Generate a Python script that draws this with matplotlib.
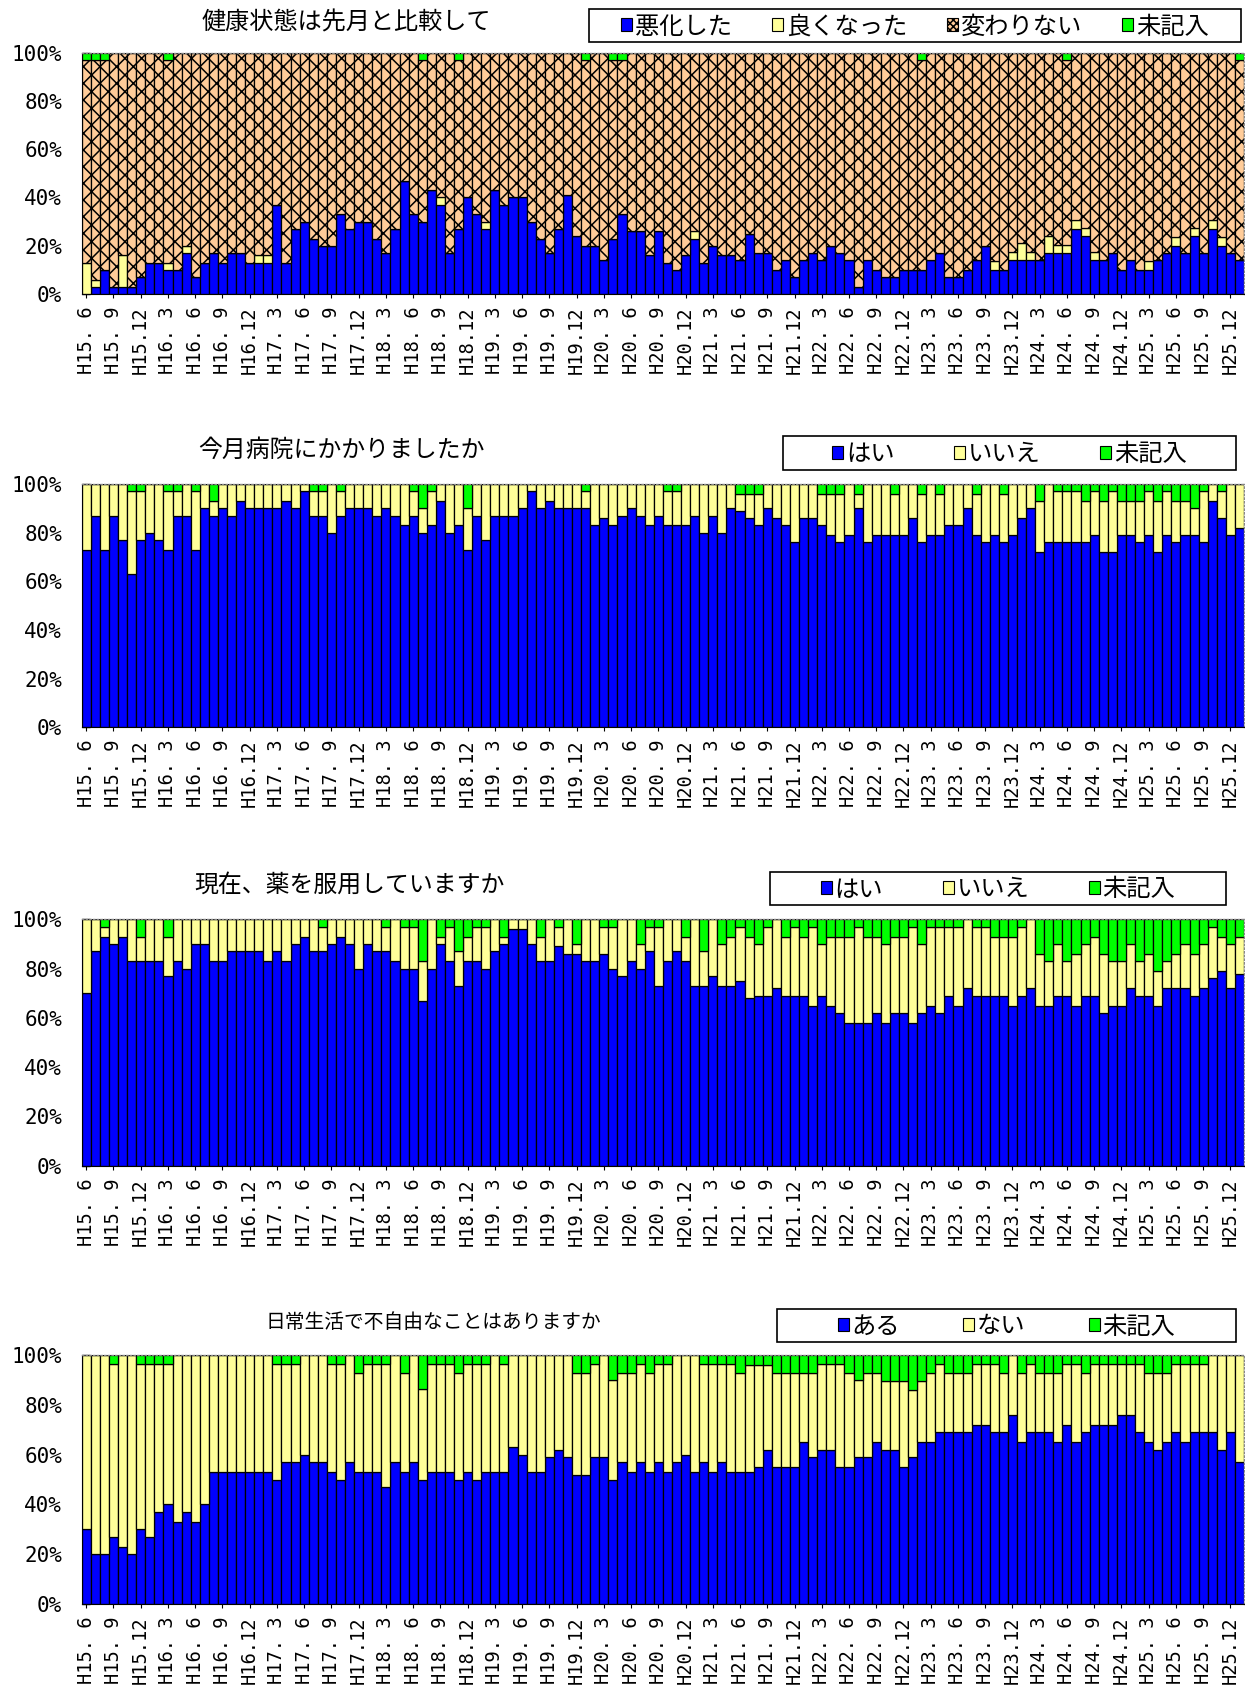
import matplotlib
matplotlib.use('Agg')
import matplotlib.pyplot as plt
from matplotlib.patches import Patch, Rectangle

plt.rcParams['font.family'] = ['Noto Sans CJK JP', 'DejaVu Sans']
plt.rcParams['hatch.linewidth'] = 1.1

# ---------------- data ----------------
tick_labels = ['H15. 6', 'H15. 9', 'H15.12', 'H16. 3', 'H16. 6', 'H16. 9', 'H16.12',
               'H17. 3', 'H17. 6', 'H17. 9', 'H17.12', 'H18. 3', 'H18. 6', 'H18. 9',
               'H18.12', 'H19. 3', 'H19. 6', 'H19. 9', 'H19.12', 'H20. 3', 'H20. 6',
               'H20. 9', 'H20.12', 'H21. 3', 'H21. 6', 'H21. 9', 'H21.12', 'H22. 3',
               'H22. 6', 'H22. 9', 'H22.12', 'H23. 3', 'H23. 6', 'H23. 9', 'H23.12',
               'H24. 3', 'H24. 6', 'H24. 9', 'H24.12', 'H25. 3', 'H25. 6', 'H25. 9',
               'H25.12']

# Panel 1: 健康状態は先月と比較して
p1_worse = [0, 3, 10, 3, 3, 3, 7, 13, 13, 10, 10, 17, 7, 13, 17, 13, 17, 17, 13, 13,
            13, 37, 13, 27, 30, 23, 20, 20, 33, 27, 30, 30, 23, 17, 27, 47, 33, 30, 43, 37,
            17, 27, 40, 33, 27, 43, 37, 40, 40, 30, 23, 17, 27, 41, 24, 20, 20, 14, 23, 33,
            26, 26, 16, 26, 13, 10, 16, 23, 13, 20, 16, 16, 14, 25, 17, 17, 10, 14, 7, 14,
            17, 14, 20, 17, 14, 3, 14, 10, 7, 7, 10, 10, 10, 14, 17, 7, 7, 10, 14, 20,
            10, 10, 14, 14, 14, 14, 17, 17, 17, 27, 24, 14, 14, 17, 10, 14, 10, 10, 14, 17,
            20, 17, 24, 17, 27, 20, 17, 14]
p1_better = [13, 3, 0, 0, 13, 0, 0, 0, 0, 3, 0, 3, 0, 0, 0, 0, 0, 0, 0, 3,
             3, 0, 0, 0, 0, 0, 0, 0, 0, 0, 0, 0, 0, 0, 0, 0, 0, 0, 0, 3,
             0, 0, 0, 0, 3, 0, 0, 0, 0, 0, 0, 0, 0, 0, 0, 0, 0, 0, 0, 0,
             0, 0, 0, 0, 0, 0, 0, 3, 0, 0, 0, 0, 0, 0, 0, 0, 0, 0, 0, 0,
             0, 0, 0, 0, 0, 0, 0, 0, 0, 0, 0, 0, 0, 0, 0, 0, 0, 0, 0, 0,
             3.5, 0, 3.5, 7, 3.5, 0, 7, 3.5, 3.5, 3.5, 3.5, 3.5, 0, 0, 0, 0, 0, 3.5, 0, 0,
             3.5, 0, 3.5, 0, 3.5, 3.5, 0, 0]
p1_missing = [3, 3, 3, 0, 0, 0, 0, 0, 0, 3, 0, 0, 0, 0, 0, 0, 0, 0, 0, 0,
              0, 0, 0, 0, 0, 0, 0, 0, 0, 0, 0, 0, 0, 0, 0, 0, 0, 3, 0, 0,
              0, 3, 0, 0, 0, 0, 0, 0, 0, 0, 0, 0, 0, 0, 0, 3, 0, 0, 3, 3,
              0, 0, 0, 0, 0, 0, 0, 0, 0, 0, 0, 0, 0, 0, 0, 0, 0, 0, 0, 0,
              0, 0, 0, 0, 0, 0, 0, 0, 0, 0, 0, 0, 3, 0, 0, 0, 0, 0, 0, 0,
              0, 0, 0, 0, 0, 0, 0, 0, 3, 0, 0, 0, 0, 0, 0, 0, 0, 0, 0, 0,
              0, 0, 0, 0, 0, 0, 0, 3]

# Panel 2: 今月病院にかかりましたか
p2_yes = [73, 87, 73, 87, 77, 63, 77, 80, 77, 73, 87, 87, 73, 90, 87, 90, 87, 93, 90, 90,
          90, 90, 93, 90, 97, 87, 87, 80, 87, 90, 90, 90, 87, 90, 87, 83, 87, 80, 83, 93,
          80, 83, 73, 87, 77, 87, 87, 87, 90, 97, 90, 93, 90, 90, 90, 90, 83, 86, 83, 87,
          90, 87, 83, 87, 83, 83, 83, 87, 80, 87, 80, 90, 89, 86, 83, 90, 86, 83, 76, 86,
          86, 83, 79, 76, 79, 90, 76, 79, 79, 79, 79, 86, 76, 79, 79, 83, 83, 90, 79, 76,
          79, 76, 79, 86, 90, 72, 76, 76, 76, 76, 76, 79, 72, 72, 79, 79, 76, 79, 72, 79,
          76, 79, 79, 76, 93, 86, 79, 82]
p2_missing = [0, 0, 0, 0, 0, 3, 3, 0, 0, 3, 3, 0, 3, 0, 7, 0, 0, 0, 0, 0,
              0, 0, 0, 0, 0, 3, 3, 0, 3, 0, 0, 0, 0, 0, 0, 0, 3, 10, 3, 0,
              0, 0, 10, 0, 0, 0, 0, 0, 0, 0, 0, 0, 0, 0, 0, 3, 0, 0, 0, 0,
              0, 0, 0, 0, 3, 3, 0, 0, 0, 0, 0, 0, 4, 4, 4, 0, 0, 0, 0, 0,
              0, 4, 4, 4, 0, 4, 0, 0, 0, 4, 0, 0, 4, 0, 4, 0, 0, 0, 4, 0,
              0, 4, 0, 0, 0, 7, 0, 3, 3, 3, 7, 3, 7, 3, 7, 7, 7, 3, 7, 3,
              7, 7, 10, 3, 0, 3, 0, 0]

# Panel 3: 現在、薬を服用していますか
p3_yes = [70, 87, 93, 90, 93, 83, 83, 83, 83, 77, 83, 80, 90, 90, 83, 83, 87, 87, 87, 87,
          83, 87, 83, 90, 93, 87, 87, 90, 93, 90, 80, 90, 87, 87, 83, 80, 80, 67, 80, 90,
          83, 73, 83, 83, 80, 87, 90, 96, 96, 90, 83, 83, 89, 86, 86, 83, 83, 86, 80, 77,
          83, 80, 87, 73, 83, 87, 83, 73, 73, 77, 73, 73, 75, 68, 69, 69, 72, 69, 69, 69,
          65, 69, 65, 62, 58, 58, 58, 62, 58, 62, 62, 58, 62, 65, 62, 69, 65, 72, 69, 69,
          69, 69, 65, 69, 72, 65, 65, 69, 69, 65, 69, 69, 62, 65, 65, 72, 69, 69, 65, 72,
          72, 72, 69, 72, 76, 79, 72, 78]
p3_missing = [0, 0, 3, 0, 0, 0, 7, 0, 0, 7, 0, 0, 0, 0, 0, 0, 0, 0, 0, 0,
              0, 0, 0, 0, 0, 0, 3, 0, 0, 0, 0, 0, 0, 3, 0, 3, 3, 17, 0, 7,
              3, 13, 7, 3, 3, 0, 7, 0, 0, 0, 7, 0, 3, 0, 10, 0, 0, 3, 3, 0,
              0, 10, 3, 3, 0, 0, 7, 0, 13, 0, 10, 7, 3, 7, 10, 3, 0, 7, 3, 7,
              3, 10, 7, 7, 7, 3, 7, 7, 10, 7, 7, 3, 10, 3, 3, 3, 3, 0, 3, 3,
              7, 7, 7, 3, 0, 14, 17, 10, 17, 14, 10, 7, 14, 17, 17, 10, 17, 14, 21, 17,
              14, 10, 14, 10, 3, 7, 10, 7]

# Panel 4: 日常生活で不自由なことはありますか
p4_yes = [30, 20, 20, 27, 23, 20, 30, 27, 37, 40, 33, 37, 33, 40, 53, 53, 53, 53, 53, 53,
          53, 50, 57, 57, 60, 57, 57, 53, 50, 57, 53, 53, 53, 47, 57, 53, 57, 50, 53, 53,
          53, 50, 53, 50, 53, 53, 53, 63, 60, 53, 53, 59, 62, 59, 52, 52, 59, 59, 50, 57,
          53, 57, 53, 57, 53, 57, 60, 53, 57, 53, 57, 53, 53, 53, 55, 62, 55, 55, 55, 65,
          59, 62, 62, 55, 55, 59, 59, 65, 62, 62, 55, 59, 65, 65, 69, 69, 69, 69, 72, 72,
          69, 69, 76, 65, 69, 69, 69, 65, 72, 65, 69, 72, 72, 72, 76, 76, 69, 65, 62, 65,
          69, 65, 69, 69, 69, 62, 69, 57]
p4_missing = [0, 0, 0, 3.6, 0, 0, 3.6, 3.6, 3.6, 3.6, 0, 0, 0, 0, 0, 0, 0, 0, 0, 0,
              0, 3.6, 3.6, 3.6, 0, 0, 0, 3.6, 3.6, 0, 7, 3.6, 3.6, 3.6, 0, 7, 0, 13.5, 3.6, 3.6,
              3.6, 7, 3.6, 3.6, 3.6, 0, 3.6, 0, 0, 0, 0, 0, 0, 0, 7, 7, 3.6, 0, 10, 7,
              7, 3.6, 7, 3.6, 3.6, 0, 0, 0, 3.6, 3.6, 3.6, 3.6, 7, 3.9, 3.9, 3.9, 7, 7, 7, 7,
              7, 3.6, 3.6, 3.6, 7, 10, 7, 7, 10.5, 10.5, 10.5, 14, 10.5, 7, 3.6, 7, 7, 7, 3.6, 3.6,
              3.6, 7, 0, 7, 3.6, 7, 7, 7, 3.6, 3.6, 7, 3.6, 3.6, 3.6, 3.6, 3.6, 3.6, 7, 7, 7,
              3.6, 3.6, 3.6, 3.6, 0, 0, 0, 0]

# ---------------- styling ----------------
BLUE = '#0000FF'
YELLOW = '#FFFF99'
PEACH = '#FFCC99'
GREEN = '#00FF00'

W, H = 1245, 1696
fig = plt.figure(figsize=(W / 100, H / 100), dpi=100)

MONO = ['DejaVu Sans Mono']
FS_YTICK = 15
FS_XTICK = 13.5
FS_LEG = 17.5


def fx(px):
    return px / W


def fy(py):
    return 1 - py / H


def make_axes(top_px, bottom_px):
    left, right = 81.7, 1244
    return fig.add_axes([fx(left), fy(bottom_px), fx(right - left), (bottom_px - top_px) / H])


def style_axes(ax):
    n = len(p1_worse)
    ax.set_xlim(-0.5, n - 0.5)
    ax.set_ylim(0, 100)
    ax.set_yticks([0, 20, 40, 60, 80, 100])
    ax.set_yticklabels(['0%', '20%', '40%', '60%', '80%', '100%'], fontsize=FS_YTICK,
                       family=MONO)
    ax.tick_params(axis='y', direction='in', length=6, width=1, pad=14)
    ax.set_xticks(list(range(0, n, 3))[:len(tick_labels)])
    ax.set_xticklabels(tick_labels, rotation=90, fontsize=FS_XTICK, family=MONO)
    ax.tick_params(axis='x', direction='out', length=3, width=0.8, pad=6)
    for s in ['top', 'right']:
        ax.spines[s].set_color('#888888')
        ax.spines[s].set_linestyle(':')
        ax.spines[s].set_linewidth(1.0)
    ax.spines['left'].set_color('black')
    ax.spines['bottom'].set_color('black')


def stacked(ax, series):
    n = len(series[0][0])
    x = list(range(n))
    bottom = [0.0] * n
    for vals, color, hatch, label in series:
        ax.bar(x, vals, bottom=bottom, width=1.0, color=color, edgecolor='black',
               linewidth=0.9, hatch=hatch, label=label, zorder=2)
        bottom = [bb + v for bb, v in zip(bottom, vals)]


def add_legend(labels, colors, hatches, box_px, spacing):
    x0, y0, x1, y1 = box_px
    frame = Rectangle((fx(x0), fy(y1)), fx(x1 - x0), (y1 - y0) / H,
                      transform=fig.transFigure, facecolor='white', edgecolor='black',
                      linewidth=1.2, zorder=5)
    fig.add_artist(frame)
    hs = [Patch(facecolor=c, edgecolor='black', hatch=h, linewidth=0.8)
          for c, h in zip(colors, hatches)]
    leg = fig.legend(hs, labels, loc='center', ncol=len(labels),
                     bbox_to_anchor=(fx((x0 + x1) / 2), fy((y0 + y1) / 2 + 1)),
                     fontsize=FS_LEG, frameon=False,
                     handlelength=0.45, handleheight=0.45,
                     handletextpad=0.12, borderpad=0.0, borderaxespad=0,
                     columnspacing=spacing)
    leg.set_zorder(6)
    return leg


# ---------- Panel 1 ----------
ax1 = make_axes(52.7, 294)
p1_same = [100 - a - b - c for a, b, c in zip(p1_worse, p1_better, p1_missing)]
stacked(ax1, [(p1_worse, BLUE, None, '悪化した'),
              (p1_better, YELLOW, None, '良くなった'),
              (p1_same, PEACH, 'xx', '変わりない'),
              (p1_missing, GREEN, None, '未記入')])
style_axes(ax1)
fig.text(fx(346), fy(22), '健康状態は先月と比較して', ha='center', va='center', fontsize=17.4)
add_legend(['悪化した', '良くなった', '変わりない', '未記入'], [BLUE, YELLOW, PEACH, GREEN],
           [None, None, 'xxxxx', None], (589, 9, 1241, 42), 1.65)

# ---------- Panel 2 ----------
ax2 = make_axes(484, 727.3)
p2_no = [100 - a - c for a, c in zip(p2_yes, p2_missing)]
stacked(ax2, [(p2_yes, BLUE, None, 'はい'), (p2_no, YELLOW, None, 'いいえ'),
              (p2_missing, GREEN, None, '未記入')])
style_axes(ax2)
fig.text(fx(341), fy(450), '今月病院にかかりましたか', ha='center', va='center', fontsize=17.2)
add_legend(['はい', 'いいえ', '未記入'], [BLUE, YELLOW, GREEN], [None, None, None],
           (783, 436, 1236, 470), 2.45)

# ---------- Panel 3 ----------
ax3 = make_axes(919.3, 1165.7)
p3_no = [100 - a - c for a, c in zip(p3_yes, p3_missing)]
stacked(ax3, [(p3_yes, BLUE, None, 'はい'), (p3_no, YELLOW, None, 'いいえ'),
              (p3_missing, GREEN, None, '未記入')])
style_axes(ax3)
fig.text(fx(349), fy(885), '現在、薬を服用していますか', ha='center', va='center', fontsize=17.2)
add_legend(['はい', 'いいえ', '未記入'], [BLUE, YELLOW, GREEN], [None, None, None],
           (770, 872, 1226, 905), 2.45)

# ---------- Panel 4 ----------
ax4 = make_axes(1355.3, 1603.7)
p4_no = [100 - a - c for a, c in zip(p4_yes, p4_missing)]
stacked(ax4, [(p4_yes, BLUE, None, 'ある'), (p4_no, YELLOW, None, 'ない'),
              (p4_missing, GREEN, None, '未記入')])
style_axes(ax4)
fig.text(fx(433), fy(1322), '日常生活で不自由なことはありますか', ha='center', va='center',
         fontsize=14.2)
add_legend(['ある', 'ない', '未記入'], [BLUE, YELLOW, GREEN], [None, None, None],
           (777, 1309, 1236, 1342), 2.6)

fig.savefig('out.png', dpi=100)
